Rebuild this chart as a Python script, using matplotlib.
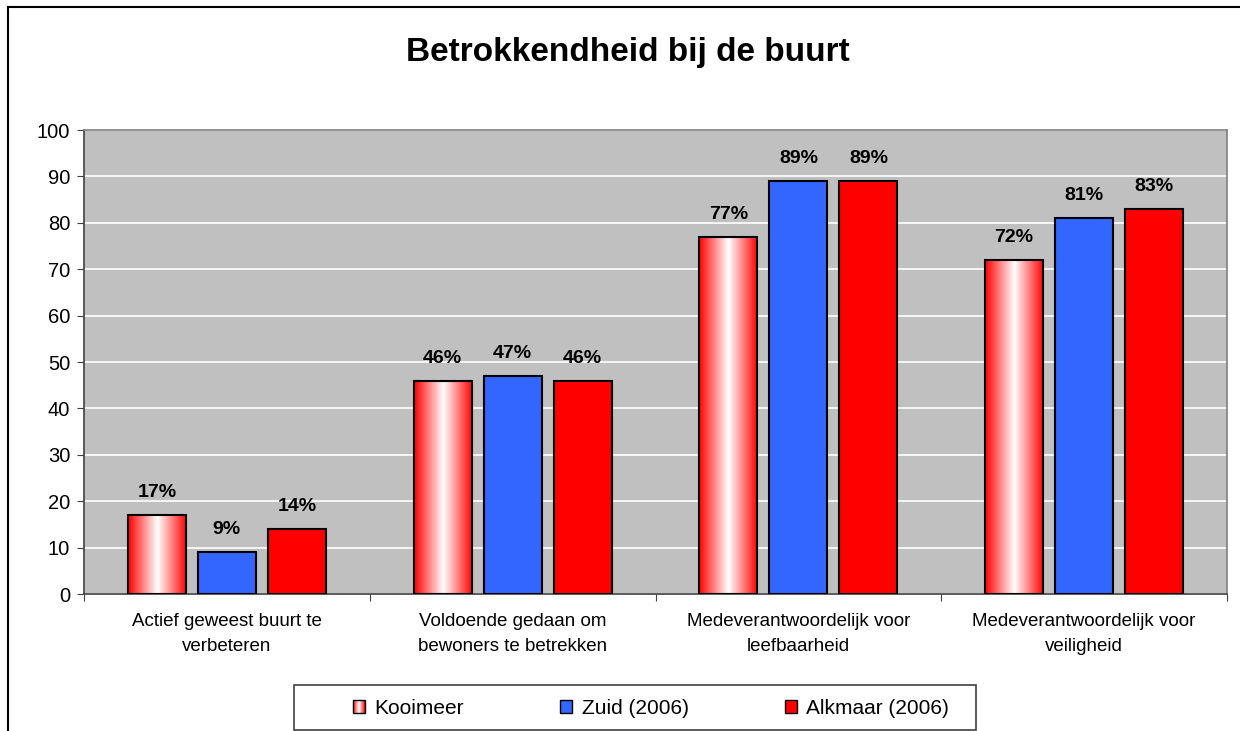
import numpy as np
import matplotlib
matplotlib.use("Agg")
import matplotlib.pyplot as plt
from matplotlib.patches import Rectangle
from matplotlib.legend_handler import HandlerBase
from matplotlib.lines import Line2D

plt.rcParams['font.family'] = ['Liberation Sans', 'DejaVu Sans']

# Data
categories = ["Actief geweest buurt te\nverbeteren",
              "Voldoende gedaan om\nbewoners te betrekken",
              "Medeverantwoordelijk voor\nleefbaarheid",
              "Medeverantwoordelijk voor\nveiligheid"]
series_names = ["Kooimeer", "Zuid (2006)", "Alkmaar (2006)"]
kooimeer = [17, 46, 77, 72]
zuid = [9, 47, 89, 81]
alkmaar = [14, 46, 89, 83]
yticks = list(range(0, 101, 10))

blue = "#3366FF"
red = "#FF0000"
grad_cmap = matplotlib.colors.LinearSegmentedColormap.from_list(
    "rw", [(0, red), (0.5, "white"), (1, red)])


class GradientHandler(HandlerBase):
    # legend key drawn as vertical stripes (red-white-red)
    def create_artists(self, legend, orig_handle, xdescent, ydescent,
                       width, height, fontsize, trans):
        arts = []
        n = 12
        for i in range(n):
            c = grad_cmap((i + 0.5) / n)
            arts.append(Rectangle((-xdescent + width * i / n, -ydescent), width / n, height,
                                  facecolor=c, edgecolor='none', transform=trans))
        arts.append(Rectangle((-xdescent, -ydescent), width, height, facecolor='none',
                              edgecolor='black', linewidth=1, transform=trans))
        return arts


fig = plt.figure(figsize=(12.4, 7.31), dpi=100)
ax = fig.add_axes([84 / 1240, 137 / 731, 1143 / 1240, 464 / 731])
ax.set_facecolor("#C0C0C0")

x = np.arange(len(categories))
w = 0.203
step = 0.245

b1 = ax.bar(x - step, kooimeer, w, facecolor='none', edgecolor='black', linewidth=1.5, zorder=3)
b2 = ax.bar(x, zuid, w, color=blue, edgecolor='black', linewidth=1.5, zorder=3)
b3 = ax.bar(x + step, alkmaar, w, color=red, edgecolor='black', linewidth=1.5, zorder=3)

grad = np.linspace(0, 1, 256).reshape(1, -1)
for r in b1:
    x0, y0 = r.get_x(), r.get_y()
    im = ax.imshow(grad, cmap=grad_cmap, aspect='auto', zorder=2.5,
                   extent=(x0, x0 + r.get_width(), y0, y0 + r.get_height()))
    im.set_clip_path(r)

for bars in (b1, b2, b3):
    for r in bars:
        ax.annotate(f"{int(r.get_height())}%", (r.get_x() + r.get_width() / 2, r.get_height()),
                    xytext=(0, 10), textcoords='offset points', ha='center', va='bottom',
                    fontsize=14, fontweight='bold')

ax.set_xlim(-0.5, len(categories) - 0.5)
ax.set_ylim(0, 100)
ax.set_yticks(yticks)
ax.tick_params(axis='y', labelsize=14.5, length=5, direction='out', color='#404040', pad=5)
ax.yaxis.grid(True, color='white', linewidth=1.2, zorder=1)
ax.set_axisbelow(True)

ax.set_xticks(np.arange(-0.5, len(categories), 1))
ax.set_xticklabels([])
ax.set_xticks(x, minor=True)
ax.set_xticklabels(categories, minor=True, fontsize=13.5, linespacing=1.55)
ax.tick_params(axis='x', which='major', length=5, direction='out', color='#404040')
ax.tick_params(axis='x', which='minor', length=0, pad=14)

for s in ax.spines.values():
    s.set_color('#808080')
    s.set_linewidth(1.2)
ax.spines['left'].set_color('#404040')
ax.spines['bottom'].set_color('#404040')

fig.text(628 / 1240, 1 - 52 / 731, "Betrokkendheid bij de buurt", ha='center', va='center',
         fontsize=24, fontweight='bold')

# outer chart border
fig.add_artist(Line2D([8 / 1240, 8 / 1240], [0, 1 - 7 / 731], transform=fig.transFigure,
                      color='black', linewidth=1.5))
fig.add_artist(Line2D([8 / 1240, 1], [1 - 7 / 731, 1 - 7 / 731], transform=fig.transFigure,
                      color='black', linewidth=1.5))

# legend box
fig.add_artist(Rectangle((294 / 1240, 1 - 730 / 731), 682 / 1240, 45 / 731,
                         transform=fig.transFigure, facecolor='white',
                         edgecolor='#404040', linewidth=1.2, zorder=1))
leg = fig.legend([b1[0], b2[0], b3[0]], series_names, ncol=3, loc='center',
                 bbox_to_anchor=(651 / 1240, 1 - 708 / 731), frameon=False,
                 fontsize=15, handlelength=0.6, handleheight=0.6,
                 handletextpad=0.45, columnspacing=4.6, borderpad=0.2,
                 handler_map={b1[0]: GradientHandler()})
leg.set_zorder(2)
for h in leg.legend_handles[1:]:
    h.set_linewidth(1)

fig.savefig("out.png", dpi=100)
